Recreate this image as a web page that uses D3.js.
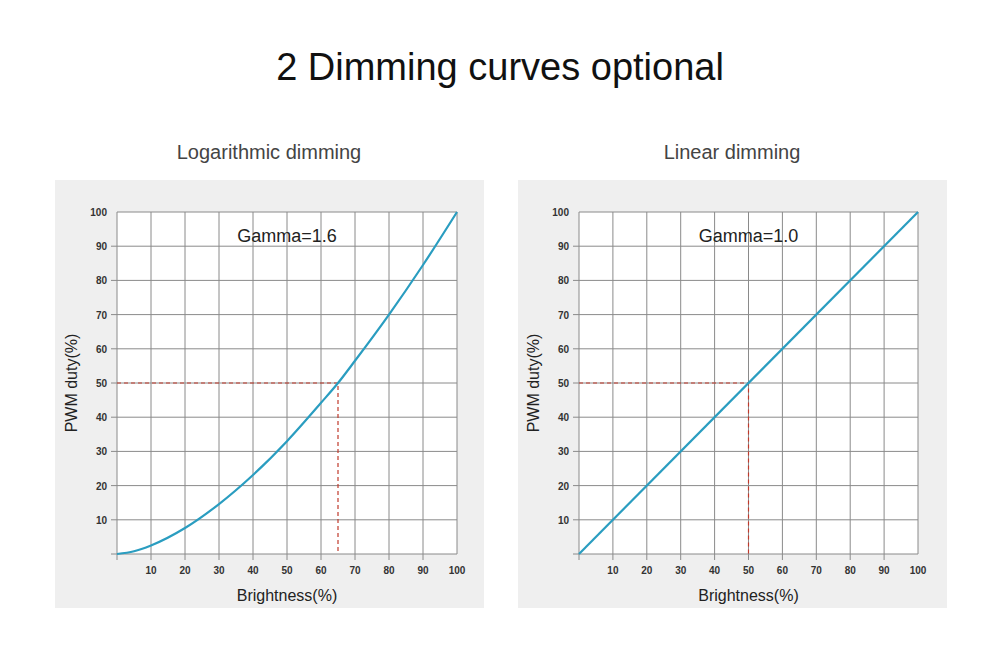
<!DOCTYPE html><html><head><meta charset="utf-8"><script src="https://cdn.jsdelivr.net/npm/d3@7"></script>
<style>body{margin:0;background:#fff}</style></head><body><svg id="c" width="1000" height="667"></svg>
<script>
const ticks=[10,20,30,40,50,60,70,80,90,100];
const logX=[0,5,10,20,30,40,50,60,65,70,80,90,100];
const logY=[0,0.8,2.5,7.6,14.6,23.1,33,44.2,50,56.5,70,84.5,100];
const linX=[0,100];
const linY=[0,100];
const panels=[
 {title:"Logarithmic dimming",gamma:"Gamma=1.6",x:logX,y:logY,mark:65,bx:55,px:117,pw:340},
 {title:"Linear dimming",gamma:"Gamma=1.0",x:linX,y:linY,mark:50,bx:518,px:579,pw:339}
];
const svg=d3.select("#c");
const F="Liberation Sans, Arial, sans-serif";
svg.append("text").attr("x",500).attr("y",80).attr("text-anchor","middle").attr("font-family",F).attr("font-size",38).attr("fill","#111").text("2 Dimming curves optional");
panels.forEach(p=>{
 const top=212,h=342;
 svg.append("rect").attr("x",p.bx).attr("y",180).attr("width",429).attr("height",428).attr("fill","#efefef");
 svg.append("text").attr("x",p.bx+214).attr("y",159).attr("text-anchor","middle").attr("font-family",F).attr("font-size",20).attr("fill","#444").text(p.title);
 const x=d3.scaleLinear().domain([0,100]).range([p.px,p.px+p.pw]);
 const y=d3.scaleLinear().domain([0,100]).range([top+h,top]);
 svg.append("rect").attr("x",p.px).attr("y",top).attr("width",p.pw).attr("height",h).attr("fill","#fff");
 const g=svg.append("g");
 g.selectAll(".vx").data([0,...ticks]).join("line").attr("x1",d=>x(d)).attr("x2",d=>x(d)).attr("y1",top).attr("y2",d=>top+h+(d===100?0:6)).attr("stroke","#8a8a8a").attr("stroke-width",1);
 g.selectAll(".hy").data([0,...ticks]).join("line").attr("y1",d=>y(d)).attr("y2",d=>y(d)).attr("x1",d=>p.px-(d===100?0:6)).attr("x2",p.px+p.pw).attr("stroke","#8a8a8a").attr("stroke-width",1);
 g.selectAll(".xl").data(ticks).join("text").attr("x",d=>x(d)).attr("y",top+h+20).attr("text-anchor","middle").attr("font-family",F).attr("font-size",10).attr("font-weight","bold").attr("fill","#333").text(d=>d);
 g.selectAll(".yl").data(ticks).join("text").attr("x",p.px-10).attr("y",d=>y(d)+4).attr("text-anchor","end").attr("font-family",F).attr("font-size",10).attr("font-weight","bold").attr("fill","#333").text(d=>d);
 svg.append("text").attr("x",p.px+p.pw/2).attr("y",601).attr("text-anchor","middle").attr("font-family",F).attr("font-size",16).attr("fill","#222").text("Brightness(%)");
 svg.append("text").attr("transform",`translate(${p.px-40},${top+h/2}) rotate(-90)`).attr("text-anchor","middle").attr("font-family",F).attr("font-size",16).attr("fill","#222").text("PWM duty(%)");
 svg.append("text").attr("x",x(50)).attr("y",y(93)+6).attr("text-anchor","middle").attr("font-family",F).attr("font-size",18).attr("fill","#222").text(p.gamma);
 svg.append("path").attr("d",`M${x(0)},${y(50)}H${x(p.mark)}V${y(0)}`).attr("fill","none").attr("stroke","#c0392b").attr("stroke-width",1.2).attr("stroke-dasharray","4,3");
 const pts=p.x.map((v,i)=>[v,p.y[i]]);
 svg.append("path").attr("d",d3.line().x(d=>x(d[0])).y(d=>y(d[1])).curve(d3.curveMonotoneX)(pts)).attr("fill","none").attr("stroke","#2a9dc0").attr("stroke-width",2.2);
});
</script></body></html>
